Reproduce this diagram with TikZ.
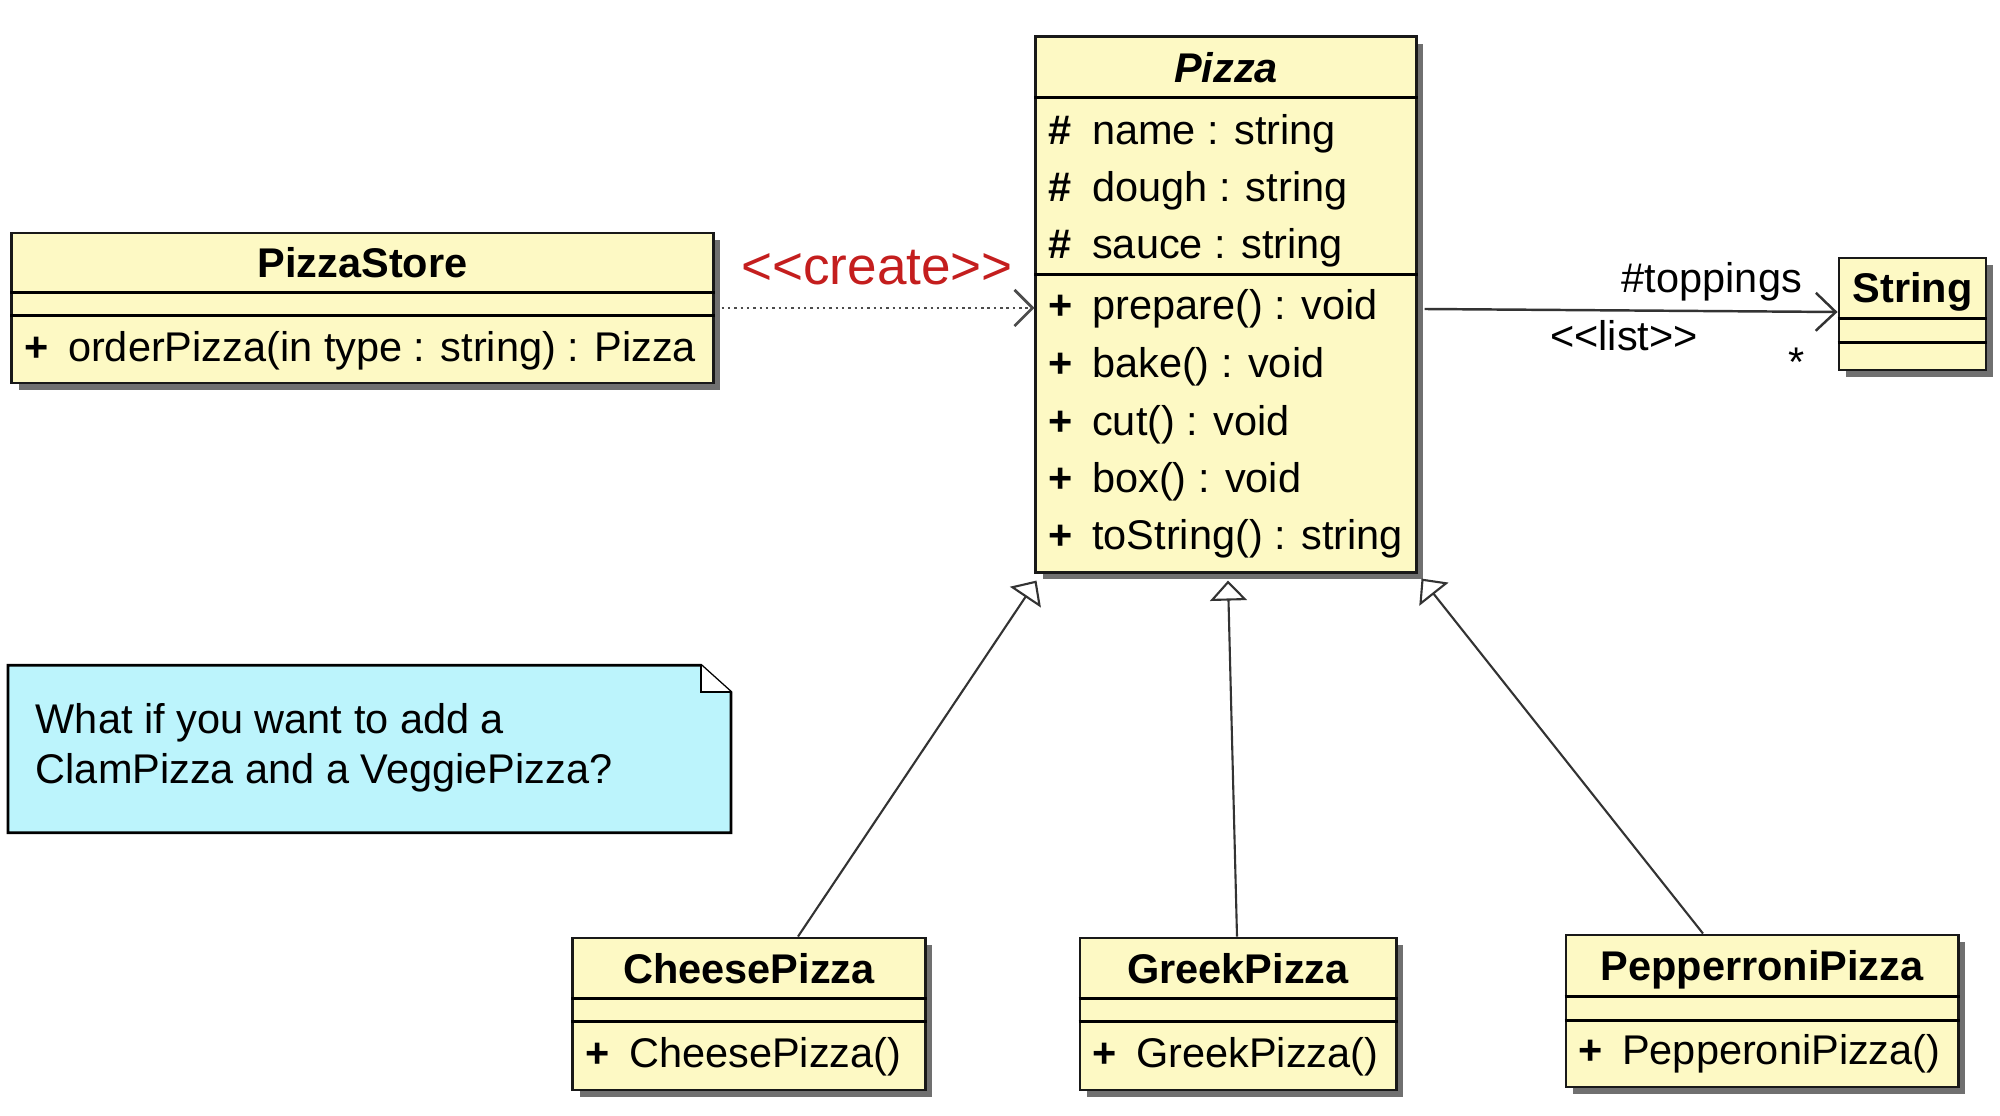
\documentclass[tikz,border=0pt]{standalone}
\usepackage{fontspec}
\setmainfont{Liberation Sans}
\usetikzlibrary{arrows.meta,calc,shadows}

\definecolor{classyellow}{RGB}{253,249,196}
\definecolor{notecyan}{RGB}{188,244,252}
\definecolor{stereored}{RGB}{196,30,30}
\newcommand\umlsize{\fontsize{11.8}{14}\selectfont}

\tikzset{
  umlclass/.style = {draw = black!90, line width = 0.8pt, fill = classyellow, inner sep = 0pt,
    drop shadow = {shadow xshift = 0.07cm, shadow yshift = -0.07cm, fill = black!70, opacity = 0.8}},
  member/.style = {anchor = base west, inner sep = 0pt},
  classname/.style = {anchor = base, inner sep = 0pt, font = \umlsize\bfseries},
  gen/.style = {draw = black!80, line width = 0.6pt, -{Triangle[length = 0.2cm, width = 0.37cm, fill = white]}},
  assoc/.style = {draw = black!80, line width = 0.7pt, -{Straight Barb[length = 0.2cm, width = 0.38cm]}},
  dep/.style = {draw = black!70, line width = 0.8pt, dash pattern = on 0.7pt off 1.1pt,
    -{Straight Barb[length = 0.18cm, width = 0.36cm]}}
}

\begin{document}
\begin{tikzpicture}[x = 0.01cm, y = -0.01cm, font = \umlsize]
  \useasboundingbox (0, 0) rectangle (2000, 1116);

  % class boxes
  \node[umlclass, minimum width = 3.80cm, minimum height = 5.35cm] (pizza) at (1226, 304.5) {};
  \node[umlclass, minimum width = 7.01cm, minimum height = 1.50cm] (store) at (362.5, 308) {};
  \node[umlclass, minimum width = 1.47cm, minimum height = 1.12cm] (string) at (1912.5, 314) {};
  \node[umlclass, minimum width = 3.52cm, minimum height = 1.52cm] (cheese) at (749, 1014) {};
  \node[umlclass, minimum width = 3.16cm, minimum height = 1.52cm] (greek) at (1238, 1014) {};
  \node[umlclass, minimum width = 3.92cm, minimum height = 1.52cm] (pepperoni) at (1762, 1011) {};

  \foreach \c/\a/\b in {pizza/62/239, store/61/84, string/62/86, cheese/62/85, greek/62/85, pepperoni/63/87} {
    \draw[line width = 0.8pt] ($(\c.north west) + (0, \a)$) -- ($(\c.north east) + (0, \a)$);
    \draw[line width = 0.8pt] ($(\c.north west) + (0, \b)$) -- ($(\c.north east) + (0, \b)$);
  }

  % Pizza
  \node[classname] (pizza-title) at ($(pizza.north) + (0, 47)$) {\itshape Pizza};
  \foreach \y/\v/\t [count = \i] in {109/\#/name : string, 166/\#/dough : string, 223/\#/sauce : string,
      284/+/prepare() : void, 342/+/bake() : void, 400/+/cut() : void, 457/+/box() : void,
      514/+/toString() : string} {
    \node[member] (pizza-v\i) at ($(pizza.north west) + (13, \y)$) {\bfseries\v};
    \node[member] (pizza-m\i) at ($(pizza.north west) + (57, \y)$) {\t};
  }

  % PizzaStore and String
  \node[classname] (store-title) at ($(store.north) + (0, 46)$) {PizzaStore};
  \node[member] (store-v1) at ($(store.north west) + (13, 130)$) {\bfseries +};
  \node[member] (store-m1) at ($(store.north west) + (57, 130)$) {orderPizza(in type : string) : Pizza};
  \node[classname] (string-title) at ($(string.north) + (0, 46)$) {String};

  % subclasses
  \foreach \c/\t/\m in {cheese/CheesePizza/CheesePizza(), greek/GreekPizza/GreekPizza(),
      pepperoni/PepperroniPizza/PepperoniPizza()} {
    \node[classname] (\c-title) at ($(\c.north) + (0, 47)$) {\t};
    \node[member] (\c-v1) at ($(\c.north west) + (13, 131)$) {\bfseries +};
    \node[member] (\c-m1) at ($(\c.north west) + (57, 131)$) {\m};
  }

  % note
  \node[minimum width = 7.21cm, minimum height = 1.66cm, inner sep = 0pt] (note) at (369.5, 749) {};
  \filldraw[fill = notecyan, line width = 0.8pt] (note.north west) -- ($(note.north east) + (-30, 0)$)
    -- ($(note.north east) + (0, 27)$) -- (note.south east) -- (note.south west) -- cycle;
  \filldraw[fill = white, line width = 0.6pt] ($(note.north east) + (-30, 0)$)
    -- ($(note.north east) + (-30, 27)$) -- ($(note.north east) + (0, 27)$);
  \node[member] (note-l1) at ($(note.north west) + (27, 68)$) {What if you want to add a};
  \node[member] (note-l2) at ($(note.north west) + (27, 118)$) {ClamPizza and a VeggiePizza?};

  % relations
  \draw[dep] ($(store.east) + (7, 0)$) -- (store.east -| pizza.west);
  \node[member, text = stereored, font = \fontsize{15.1}{18}\selectfont] (create)
    at ($(store.east) + (26, -23)$) {<\kern0pt<create>\kern0pt>};

  \draw[assoc] ($(pizza.east) + (7, 4.5)$) -- ($(string.west) + (0, -2)$);
  \node[anchor = base east, inner sep = 0pt] (toppings) at ($(string.west) + (-35, -21)$) {\#toppings};
  \node[member] (list) at ($(string.west) + (-288, 37)$) {<\kern0pt<list>\kern0pt>};
  \node[anchor = base, inner sep = 0pt] (mult) at ($(string.west) + (-41, 63)$) {*};

  \draw[gen] ($(cheese.north) + (49, 0)$) -- ($(pizza.south west) + (2, 7)$);
  \draw[gen] ($(greek.north) + (-1, 0)$) -- ($(pizza.south) + (2, 7)$);
  \draw[gen] ($(pepperoni.north) + (-59, 0)$) -- ($(pizza.south east) + (4, 5)$);
\end{tikzpicture}
\end{document}
